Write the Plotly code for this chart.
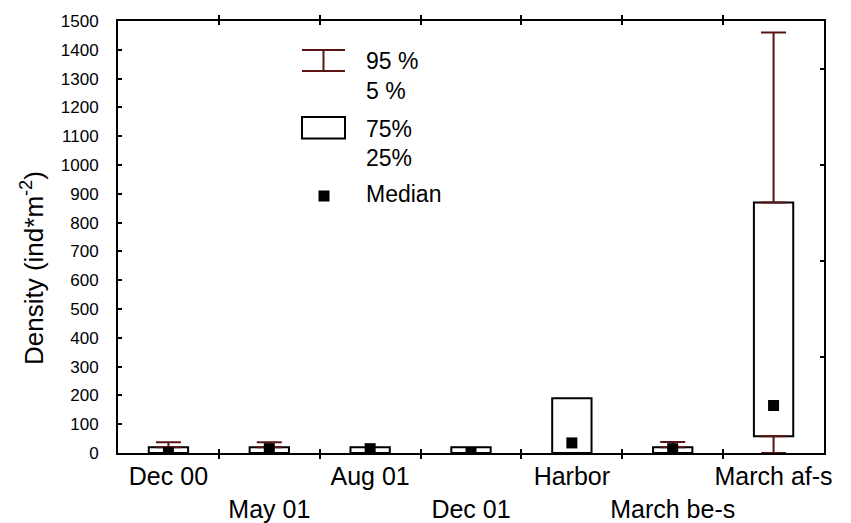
import plotly.graph_objects as go

# ---- data ----
categories = ["Dec 00", "May 01", "Aug 01", "Dec 01", "Harbor", "March be-s", "March af-s"]
tick_labels = ["Dec 00", "<br>May 01", "Aug 01", "<br>Dec 01", "Harbor", "<br>March be-s", "March af-s"]
p5 = [0, 0, 0, 0, 0, 0, 0]
q1 = [0, 0, 0, 0, 0, 0, 58]
median = [1, 15, 15, 1, 35, 15, 165]
q3 = [20, 20, 20, 20, 190, 20, 870]
p95 = [37, 37, 20, 20, 190, 38, 1460]
y_ticks = list(range(0, 1501, 100))
right_ticks = [333.3, 666.7, 1000, 1333.3]
y_title = "Density (ind*m<sup>-2</sup>)"

WHISK = "#5a1414"
FONT = "Liberation Sans, Arial, sans-serif"

# page body margin offsets the figure by 8px
OFF = 8
W, H = 851, 523
L, R, T, B = 118 - OFF, 27 + OFF, 21 - OFF, 70 + OFF
PW, PH = W - L - R, H - T - B


def px(x):
    return (x - OFF - L) / PW


def py(y):
    return (H - B - (y - OFF)) / PH


fig = go.Figure()

# boxes (25%-75%)
fig.add_trace(go.Bar(
    x=categories, y=[b - a for a, b in zip(q1, q3)], base=q1, width=0.39,
    marker=dict(color="white", line=dict(color="black", width=2)),
    showlegend=False, hoverinfo="skip"))

# upper whiskers (75% -> 95%)
up_y = [b if c > b else None for b, c in zip(q3, p95)]
up_err = [c - b if c > b else 0 for b, c in zip(q3, p95)]
fig.add_trace(go.Scatter(
    x=categories, y=up_y, mode="markers", marker=dict(size=0.1, color="rgba(0,0,0,0)"),
    error_y=dict(type="data", array=up_err, arrayminus=[0] * 7, symmetric=False,
                 color=WHISK, thickness=2, width=12.5),
    showlegend=False, hoverinfo="skip"))

# lower whiskers (25% -> 5%)
lo_y = [a if a > p else None for a, p in zip(q1, p5)]
lo_err = [a - p if a > p else 0 for a, p in zip(q1, p5)]
fig.add_trace(go.Scatter(
    x=categories, y=lo_y, mode="markers", marker=dict(size=0.1, color="rgba(0,0,0,0)"),
    error_y=dict(type="data", array=[0] * 7, arrayminus=lo_err, symmetric=False,
                 color=WHISK, thickness=2, width=12.5),
    showlegend=False, hoverinfo="skip"))

# medians
fig.add_trace(go.Scatter(
    x=categories, y=median, mode="markers",
    marker=dict(symbol="square", size=11, color="black"),
    showlegend=False, hoverinfo="skip"))

# invisible trace for right axis
fig.add_trace(go.Scatter(x=[categories[0]], y=[0], yaxis="y2", mode="markers",
                         marker=dict(size=0.1, color="rgba(0,0,0,0)"),
                         showlegend=False, hoverinfo="skip"))

# ---- custom legend (decoration) ----
shapes = []
lx0, lx1, lxc = 302, 345, 323.5
shapes += [
    dict(type="line", xref="paper", yref="paper", x0=px(lx0), x1=px(lx1), y0=py(50), y1=py(50),
         line=dict(color=WHISK, width=2)),
    dict(type="line", xref="paper", yref="paper", x0=px(lx0), x1=px(lx1), y0=py(71), y1=py(71),
         line=dict(color=WHISK, width=2)),
    dict(type="line", xref="paper", yref="paper", x0=px(lxc), x1=px(lxc), y0=py(50), y1=py(71),
         line=dict(color=WHISK, width=2)),
    dict(type="rect", xref="paper", yref="paper", x0=px(lx0), x1=px(lx1), y0=py(117), y1=py(138.5),
         line=dict(color="black", width=2), fillcolor="white"),
    dict(type="rect", xref="paper", yref="paper", x0=px(318.5), x1=px(329.5), y0=py(190.5), y1=py(201.5),
         line=dict(color="black", width=0), fillcolor="black"),
]
legend_text = [("95 %", 61), ("5 %", 91), ("75%", 129), ("25%", 158), ("Median", 194)]
annotations = [
    dict(text=t, x=px(364), y=py(yc), xref="paper", yref="paper", xanchor="left", yanchor="middle",
         showarrow=False, font=dict(size=23, color="black", family=FONT))
    for t, yc in legend_text
]
# y-axis title (placed as in the reference, slightly below the plot centre)
annotations.append(dict(text=y_title, x=px(32), y=py(268), xref="paper", yref="paper",
                        xanchor="center", yanchor="middle", textangle=-90, showarrow=False,
                        font=dict(size=26, color="black", family=FONT)))

fig.update_layout(
    width=W, height=H,
    margin=dict(l=L, r=R, t=T, b=B, autoexpand=False),
    paper_bgcolor="white", plot_bgcolor="white",
    font=dict(family=FONT, color="black"),
    bargap=0.61,
    shapes=shapes, annotations=annotations,
    xaxis=dict(
        type="category", categoryorder="array", categoryarray=categories,
        tickmode="array", tickvals=categories, ticktext=tick_labels, tickangle=0,
        tickson="boundaries", ticks="inside", ticklen=4, tickwidth=2, tickcolor="black",
        showline=True, linecolor="black", linewidth=2, mirror="allticks",
        showgrid=False, zeroline=False, range=[-0.5, 6.5], automargin=False,
        tickfont=dict(size=25, color="black", family=FONT),
    ),
    yaxis=dict(
        range=[0, 1500], tickmode="array", tickvals=y_ticks,
        ticks="inside", ticklen=4, tickwidth=2, tickcolor="black",
        showline=True, linecolor="black", linewidth=2,
        showgrid=False, zeroline=False, automargin=False,
        tickfont=dict(size=17, color="black", family=FONT),
        ticklabelstandoff=14,
    ),
    yaxis2=dict(
        overlaying="y", side="right", range=[0, 1500], tickmode="array", tickvals=right_ticks,
        showticklabels=False, ticks="inside", ticklen=4, tickwidth=2, tickcolor="black",
        showline=True, linecolor="black", linewidth=2, showgrid=False, zeroline=False,
        automargin=False,
    ),
)

fig.write_html("out.html")
